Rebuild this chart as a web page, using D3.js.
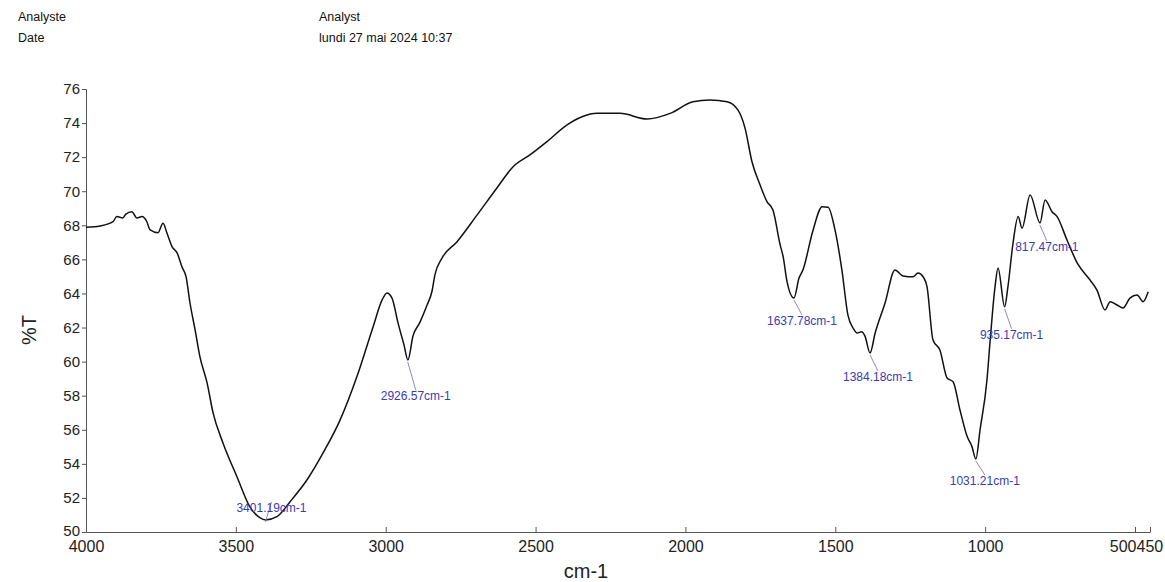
<!DOCTYPE html>
<html>
<head>
<meta charset="utf-8">
<script src="https://cdn.jsdelivr.net/npm/d3@7"></script>
<style>
  body { margin: 0; background: #fff; }
  svg { display: block; font-family: "Liberation Sans", Arial, sans-serif; }
</style>
</head>
<body>
<div id="chart"></div>
<script>
// IR spectrum, %T vs wavenumber (cm-1)

var wavenumbers = [4000, 3953, 3910, 3897, 3877, 3867, 3847, 3830, 3813, 3797, 3786, 3760, 3743, 3730,
  3713, 3696, 3680, 3666, 3653, 3636, 3620, 3596, 3576, 3543, 3496, 3453, 3419, 3401, 3363, 3319,
  3263, 3209, 3152, 3096, 3042, 3012, 2996, 2979, 2959, 2939, 2926, 2909, 2886, 2862, 2846, 2836,
  2812, 2762, 2695, 2629, 2575, 2519, 2462, 2395, 2345, 2295, 2218, 2128, 2051, 1975, 1918, 1861,
  1825, 1801, 1778, 1751, 1728, 1708, 1684, 1674, 1661, 1638, 1621, 1608, 1574, 1544, 1524, 1501,
  1478, 1458, 1440, 1427, 1412, 1401, 1384, 1367, 1334, 1301, 1274, 1241, 1224, 1207, 1194, 1174, 1151, 1127,
  1107, 1084, 1060, 1044, 1031, 1017, 994, 984, 967, 957, 935, 924, 907, 890, 877, 850, 817, 800,
  777, 760, 727, 693, 650, 627, 600, 583, 560, 540, 517, 493, 473, 456]

var transmittance = [67.88, 67.96, 68.21, 68.51, 68.43, 68.66, 68.80, 68.43, 68.51, 68.21, 67.73, 67.57, 68.12, 67.55,
  66.75, 66.38, 65.57, 64.97, 63.44, 61.86, 60.29, 58.75, 56.99, 55.23, 53.23, 51.47, 50.83, 50.71, 50.90, 51.78,
  53.05, 54.64, 56.58, 59.12, 62.05, 63.62, 64.03, 63.73, 62.27, 60.98, 60.10, 61.50, 62.30, 63.32, 64.10, 65.08,
  66.08, 67.04, 68.61, 70.19, 71.44, 72.13, 72.91, 73.89, 74.37, 74.57, 74.57, 74.24, 74.57, 75.25, 75.35, 75.25,
  74.77, 73.69, 71.73, 70.37, 69.39, 68.90, 66.85, 66.16, 64.69, 63.73, 64.91, 65.38, 67.73, 69.09, 69.06, 67.73,
  65.38, 62.74, 61.95, 61.68, 61.75, 61.50, 60.51, 61.68, 63.44, 65.38, 65.03, 64.98, 65.20, 64.98, 64.40, 61.27, 60.68, 59.04,
  58.82, 57.16, 55.60, 55.01, 54.29, 55.99, 58.92, 61.09, 64.40, 65.50, 63.22, 64.40, 66.96, 68.51, 67.84, 69.78, 68.14, 69.49,
  68.80, 68.51, 67.14, 65.79, 64.79, 64.20, 63.03, 63.52, 63.32, 63.15, 63.73, 63.91, 63.52, 64.10]

var peakWavenumbers = [3401.19, 2926.57, 1637.78, 1384.18, 1031.21, 935.17, 817.47]
var peakTransmittance = [50.71, 60.10, 63.73, 60.51, 54.29, 63.22, 68.14]
var peakLabels = ["3401.19cm-1", "2926.57cm-1", "1637.78cm-1", "1384.18cm-1", "1031.21cm-1", "935.17cm-1", "817.47cm-1"]

var xTicks = [4000, 3500, 3000, 2500, 2000, 1500, 1000, 500, 450]
var yTicks = [50, 52, 54, 56, 58, 60, 62, 64, 66, 68, 70, 72, 74, 76]

// label placement (pixel offsets from the peak), layout only
var labelOffsets = [[6, -8], [8, 40], [8, 27], [8, 28], [9, 26], [7, 32], [7, 28]]

var width = 1165
var height = 582
var plotLeft = 86, plotRight = 1150, plotTop = 89, plotBottom = 532

var x = d3.scaleLinear().domain([4000, 450]).range([plotLeft, plotRight])
var y = d3.scaleLinear().domain([50, 76]).range([plotBottom, plotTop])

var svg = d3.select("#chart").append("svg")
  .attr("width", width)
  .attr("height", height)

// header
var header = svg.append("g").attr("font-size", 12.5).attr("fill", "#111")
header.append("text").attr("x", 18).attr("y", 21).text("Analyste")
header.append("text").attr("x", 18).attr("y", 42).text("Date")
header.append("text").attr("x", 319).attr("y", 21).text("Analyst")
header.append("text").attr("x", 319).attr("y", 42).text("lundi 27 mai 2024 10:37")

// axes
var xAxis = svg.append("g")
  .attr("transform", "translate(0," + plotBottom + ")")
  .call(d3.axisBottom(x)
    .tickValues(xTicks)
    .tickFormat(d3.format("d"))
    .tickSizeInner(-5)
    .tickSizeOuter(0)
    .tickPadding(9))

xAxis.selectAll("text")
  .attr("font-size", 16)
  .attr("fill", "#222")
  .attr("text-anchor", d => d == 500 ? "end" : (d == 450 ? "start" : "middle"))
  .attr("dx", d => d == 500 ? 1 : (d == 450 ? -14 : 0))

var yAxis = svg.append("g")
  .attr("transform", "translate(" + plotLeft + ",0)")
  .call(d3.axisLeft(y)
    .tickValues(yTicks)
    .tickFormat(d3.format("d"))
    .tickSize(4)
    .tickPadding(2))

yAxis.selectAll("text")
  .attr("font-size", 15)
  .attr("fill", "#222")
  .attr("dy", d => d == 50 ? "0.2em" : "0.32em")

svg.selectAll(".domain, .tick line").attr("stroke", "#555")

// axis titles
svg.append("text")
  .attr("transform", "translate(36,330) rotate(-90)")
  .attr("text-anchor", "middle")
  .attr("font-size", 20)
  .attr("fill", "#222")
  .text("%T")

svg.append("text")
  .attr("x", 586)
  .attr("y", 578)
  .attr("text-anchor", "middle")
  .attr("font-size", 20)
  .attr("fill", "#222")
  .text("cm-1")

// spectrum
var points = wavenumbers.map((w, i) => [w, transmittance[i]])

var line = d3.line()
  .x(d => x(d[0]))
  .y(d => y(d[1]))
  .curve(d3.curveMonotoneX)

svg.append("path")
  .datum(points)
  .attr("fill", "none")
  .attr("stroke", "#111")
  .attr("stroke-width", 1.5)
  .attr("d", line)

// peak annotations
var peaks = svg.append("g")
peakWavenumbers.forEach(function(w, i) {
  var px = x(w), py = y(peakTransmittance[i])
  var off = labelOffsets[i]
  var lx = px + off[0], ly = py + off[1]
  peaks.append("line")
    .attr("x1", px).attr("y1", py + 2)
    .attr("x2", lx).attr("y2", ly - 10)
    .attr("stroke", "#8a8ac4")
    .attr("stroke-width", 1)
  peaks.append("text")
    .attr("x", lx)
    .attr("y", ly)
    .attr("text-anchor", "middle")
    .attr("font-size", 12)
    .attr("fill", "#3b3bb0")
    .text(peakLabels[i])
})
</script>
</body>
</html>
